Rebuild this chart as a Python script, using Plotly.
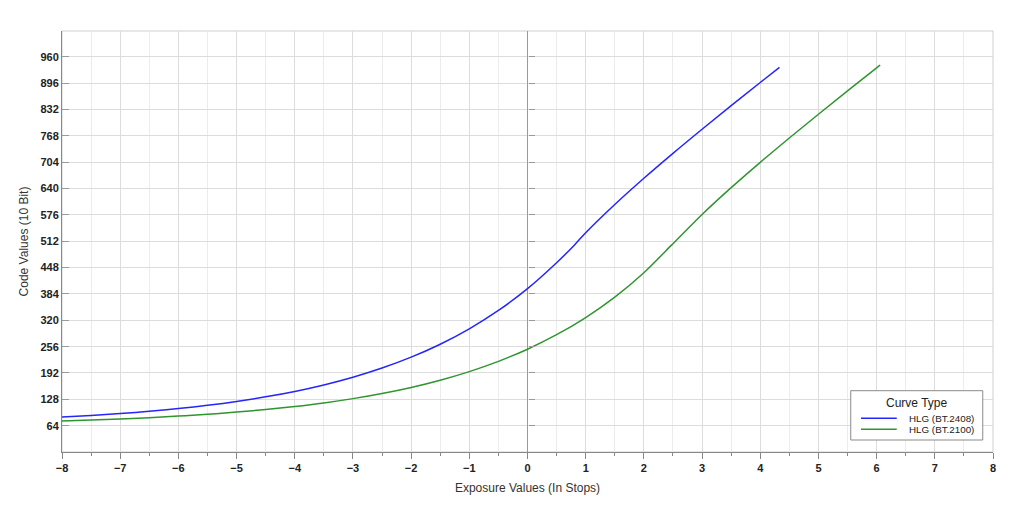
import plotly.graph_objects as go

# Exposure (stops) sample positions
stops_2408 = [-8, -7.5, -7, -6.5, -6, -5.5, -5, -4.5, -4, -3.5, -3, -2.5, -2, -1.5, -1, -0.5,
              0, 0.5, 0.8, 1, 1.5, 2, 2.5, 3, 3.5, 4, 4.33]
code_2408 = [84.8, 88.7, 93.4, 99.0, 105.6, 113.5, 122.8, 134.0, 147.2, 163.0, 181.7, 204.0,
             230.4, 261.9, 299.4, 343.9, 396.9, 459.9, 502.0, 532.8, 601.4, 665.1, 725.7,
             784.3, 841.6, 897.9, 934.8]

stops_2100 = [-8, -7.5, -7, -6.5, -6, -5.5, -5, -4.5, -4, -3.5, -3, -2.5, -2, -1.5, -1, -0.5,
              0, 0.5, 1, 1.5, 2, 2.47, 2.5, 3, 3.5, 4, 4.5, 5, 5.5, 6, 6.06]
code_2100 = [75.6, 77.8, 80.4, 83.5, 87.2, 91.6, 96.9, 103.1, 110.5, 119.2, 129.7, 142.1,
             156.9, 174.5, 195.4, 220.3, 249.8, 285.0, 326.8, 376.5, 435.7, 502.0, 506.0,
             577.1, 642.3, 703.9, 763.1, 820.8, 877.5, 933.4, 940.0]

series_names = ["HLG (BT.2408)", "HLG (BT.2100)"]
series_colors = ["#2525ff", "#2f952f"]
legend_title = "Curve Type"

y_ticks = [64, 128, 192, 256, 320, 384, 448, 512, 576, 640, 704, 768, 832, 896, 960]
x_ticks = [-8, -7, -6, -5, -4, -3, -2, -1, 0, 1, 2, 3, 4, 5, 6, 7, 8]

FONT = "Liberation Sans, Arial, sans-serif"

fig = go.Figure()
fig.add_trace(go.Scatter(x=stops_2408, y=code_2408, mode="lines", name=series_names[0],
                         line=dict(color=series_colors[0], width=1.5, shape="spline", smoothing=1.0)))
fig.add_trace(go.Scatter(x=stops_2100, y=code_2100, mode="lines", name=series_names[1],
                         line=dict(color=series_colors[1], width=1.5, shape="spline", smoothing=1.0)))
# helper trace for the axis drawn through x = 0
fig.add_trace(go.Scatter(x=[None], y=[None], yaxis="y2", showlegend=False, hoverinfo="skip"))

# legend box drawn in paper coordinates
shapes = [
    dict(type="rect", xref="paper", yref="paper", x0=0, x1=1, y0=0, y1=1,
         line=dict(color="#cfcfcf", width=1), layer="below"),
    dict(type="rect", xref="paper", yref="paper", x0=0.8472, x1=0.9890, y0=0.0285, y1=0.1456,
         line=dict(color="#8a8a8a", width=1), fillcolor="white", layer="above"),
]
annotations = [
    dict(text=legend_title, xref="paper", yref="paper", x=0.9180, y=0.1171,
         xanchor="center", yanchor="middle", showarrow=False,
         font=dict(family=FONT, size=12, color="#222")),
]
legend_rows_y = [0.0800, 0.0539]
for name, color, yy in zip(series_names, series_colors, legend_rows_y):
    shapes.append(dict(type="line", xref="paper", yref="paper", x0=0.8582, x1=0.8966, y0=yy, y1=yy,
                       line=dict(color=color, width=1.5), layer="above"))
    annotations.append(dict(text=name, xref="paper", yref="paper", x=0.9073, y=yy,
                            xanchor="left", yanchor="middle", showarrow=False,
                            font=dict(family=FONT, size=9.8, color="#222")))

fig.update_layout(
    width=1016, height=504,
    margin=dict(l=54, r=31, t=23, b=60),
    paper_bgcolor="white", plot_bgcolor="white",
    font=dict(family=FONT, color="#222"),
    showlegend=False,
    xaxis=dict(
        range=[-8, 8], tickvals=x_ticks, ticks="outside", ticklen=6, tickcolor="#888",
        showline=True, linecolor="#888", linewidth=1,
        showgrid=True, gridcolor="#dcdcdc", gridwidth=1,
        zeroline=True, zerolinecolor="#9a9a9a", zerolinewidth=1,
        minor=dict(dtick=0.5, tick0=0, ticks="outside", ticklen=3, tickcolor="#888",
                   showgrid=True, gridcolor="#ececec", gridwidth=1),
        tickfont=dict(family=FONT, size=11, color="#222", weight="bold"),
        title=dict(text="Exposure Values (In Stops)", font=dict(family=FONT, size=12, color="#333"),
                   standoff=10),
    ),
    yaxis=dict(
        range=[0, 1023], tickvals=y_ticks, ticks="inside", ticklen=7, tickcolor="#9a9a9a",
        showline=True, linecolor="#888", linewidth=1,
        showgrid=True, gridcolor="#dcdcdc", gridwidth=1, zeroline=False,
        tickfont=dict(family=FONT, size=11, color="#222", weight="bold"),
        title=dict(text="Code Values (10 Bit)", font=dict(family=FONT, size=12, color="#333"),
                   standoff=9),
    ),
    yaxis2=dict(
        overlaying="y", anchor="free", position=0.5, side="right",
        range=[0, 1023], tickvals=y_ticks, ticks="outside", ticklen=6, tickcolor="#9a9a9a",
        showticklabels=False, showgrid=False, showline=False, zeroline=False,
    ),
    shapes=shapes,
    annotations=annotations,
)

fig.write_html("out.html")
